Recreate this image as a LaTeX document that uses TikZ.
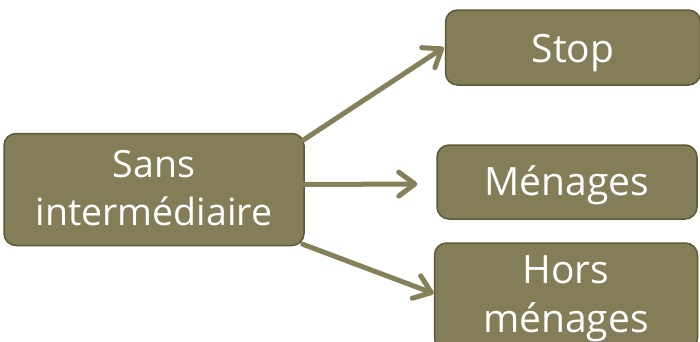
\documentclass[tikz,border=0pt]{standalone}
\usepackage{fontspec}
\setmainfont{Open Sans}
\usetikzlibrary{arrows.meta}
\definecolor{boxfill}{HTML}{837D58}
\definecolor{boxline}{HTML}{5C5838}
\definecolor{arrcol}{HTML}{85805A}
\newcommand{\twolines}[4]{\raisebox{0pt}[#3][#4]{\begin{tabular}[b]{@{}c@{}}#1\\#2\end{tabular}}}
\begin{document}
\begin{tikzpicture}[x=1pt,y=-1pt,
  box/.style={draw=boxline, fill=boxfill, line width=1.5pt, rounded corners=12pt,
    text=white, inner sep=0pt},
  arr/.style={draw=arrcol, line width=5pt, line cap=round,
    -{Straight Barb[length=16pt,width=24pt,line cap=round,line join=round]}}]
\useasboundingbox (0,0) rectangle (700,341);
\node[box, minimum width=300pt, minimum height=112pt,
  font=\fontsize{37.5}{48}\selectfont] (L) at (154,189.5)
  {\twolines{Sans}{intermédiaire}{71pt}{0pt}};
\node[box, minimum width=255pt, minimum height=75pt,
  font=\fontsize{39}{48}\selectfont] (S) at (573,47.5)
  {\raisebox{0pt}[29pt][0pt]{Stop}};
\node[box, minimum width=260pt, minimum height=74pt,
  font=\fontsize{39}{48}\selectfont] (M) at (567,182)
  {\raisebox{0pt}[26pt][0pt]{Ménages}};
\node[box, minimum width=263pt, minimum height=107pt,
  font=\fontsize{39}{49}\selectfont] (H) at (566,296.5)
  {\twolines{Hors}{ménages}{71pt}{0pt}};
\coordinate (Mtip) at ([xshift=-19pt,yshift=-2pt]M.west);
\draw[arr] ([shift={(-1pt,-7pt)}]L.north east) -- ([xshift=-1pt]S.west);
\draw[arr] ([yshift=5pt]L.east) -- (Mtip);
\draw[arr] ([shift={(-2pt,2pt)}]L.south east) -- ([yshift=3pt]H.west);
\end{tikzpicture}
\end{document}
